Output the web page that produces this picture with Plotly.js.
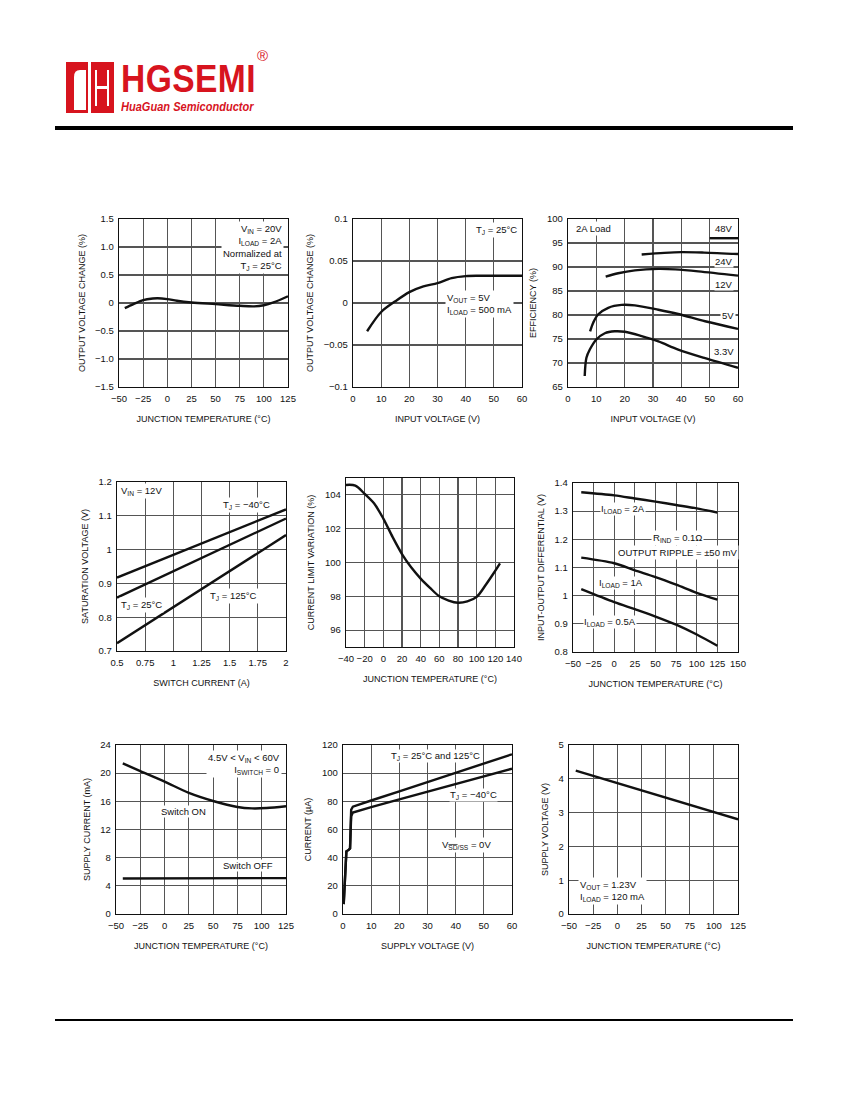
<!DOCTYPE html>
<html>
<head>
<meta charset="utf-8">
<script src="https://cdn.plot.ly/plotly-3.0.1.min.js"></script>
<style>
  html, body { margin: 0; padding: 0; background: #fff; }
  #wrap { position: relative; width: 850px; height: 1100px; }
  #page { width: 850px; height: 1100px; }
  .logo { position: absolute; color: #d7141e; white-space: nowrap; transform-origin: left top; font-family: "Liberation Sans", Arial, sans-serif; }
  #brand { left: 121px; top: 57px; font-size: 39px; font-weight: bold; transform: scaleX(0.86); letter-spacing: 0.5px; }
  #sub { left: 121px; top: 100px; font-size: 12px; font-weight: bold; font-style: italic; transform: scaleX(0.92); }
  #reg { left: 257px; top: 47px; font-size: 15px; }
</style>
</head>
<body>
<div id="wrap">
  <div id="page"></div>
  <div class="logo" id="brand">HGSEMI</div>
  <div class="logo" id="sub">HuaGuan Semiconductor</div>
  <div class="logo" id="reg">®</div>
</div>
<script>
// ---- data ----
const ovcTemp = [-44, -35, -25, -15, -10, 0, 10, 25, 50, 75, 90, 100, 110, 125];
const ovcVal = [-0.09, -0.02, 0.05, 0.08, 0.085, 0.07, 0.04, 0.01, -0.02, -0.05, -0.06, -0.04, 0.01, 0.12];
const ovcTicks = [-1.5, -1, -0.5, 0, 0.5, 1, 1.5];
const ovcTickText = ["−1.5", "−1.0", "−0.5", "0", "0.5", "1.0", "1.5"];

const lineVin = [5, 10, 15, 20, 25, 30, 35, 40, 45, 60];
const lineVal = [-0.0336, -0.0107, 0.002, 0.013, 0.0198, 0.0237, 0.0296, 0.032, 0.0324, 0.0324];
const lineTicks = [-0.1, -0.05, 0, 0.05, 0.1];
const lineTickText = ["−0.1", "−0.05", "0", "0.05", "0.1"];

const eff48Vin = [50, 60];
const eff48 = [96, 96];
const eff24Vin = [26, 34, 40, 48, 60];
const eff24 = [92.6, 92.95, 93.1, 93.0, 92.7];
const eff12Vin = [13.3, 17.7, 23.6, 31.9, 37.8, 46, 60];
const eff12 = [88.0, 88.7, 89.3, 89.6, 89.5, 89.1, 88.2];
const eff5Vin = [7.8, 8.9, 10.6, 14.2, 18.9, 23.6, 31.9, 38.9, 48.4, 60];
const eff5 = [76.6, 78.4, 80.1, 81.5, 82.1, 82.0, 81.1, 80.2, 78.7, 77.1];
const eff33Vin = [5.9, 6.5, 7.7, 10, 13, 16.5, 20.1, 26, 31.9, 38.9, 48.4, 60];
const eff33 = [67.3, 71.1, 72.8, 74.9, 76.2, 76.6, 76.5, 75.6, 74.5, 72.8, 71.0, 69.0];

const satCurrent = [0.5, 1.0, 1.5, 2.0];
const satM40 = [0.917, 0.984, 1.051, 1.119];
const sat25 = [0.858, 0.936, 1.014, 1.092];
const sat125 = [0.723, 0.830, 0.937, 1.043];

const ilimTemp = [-40, -30, -20, -10, 0, 10, 20, 30, 40, 50, 60, 70, 80, 90, 100, 110, 118, 125];
const ilimVal = [104.59, 104.55, 104.06, 103.5, 102.6, 101.5, 100.5, 99.7, 99.05, 98.5, 98.0, 97.75, 97.62, 97.7, 97.97, 98.7, 99.35, 99.95];

const dropTemp = [-40, 0, 25, 50, 75, 100, 125];
const drop2A = [1.367, 1.356, 1.345, 1.334, 1.322, 1.31, 1.295];
const drop1A = [1.135, 1.115, 1.09, 1.066, 1.039, 1.01, 0.986];
const drop05A = [1.023, 0.977, 0.952, 0.926, 0.897, 0.862, 0.822];

const iqTemp = [-43, -25, 0, 25, 50, 75, 90, 105, 125];
const iqOn = [21.4, 20.3, 18.8, 17.2, 16.05, 15.2, 15.0, 15.05, 15.3];
const iqOffTemp = [-43, 125];
const iqOff = [5.05, 5.1];

const sdVin = [0.25, 0.8, 1.2, 2.0, 2.5, 2.7, 2.9, 3.5, 5, 10, 20, 30, 40, 50, 60];
const sdHot = [7, 32, 44.5, 45.5, 46.5, 60, 74, 76.2, 77.3, 80.6, 87.1, 93.7, 100.2, 106.8, 113.4];
const sdCold = [7, 32, 44.5, 45.5, 46.5, 58, 69.5, 72, 73, 75.9, 81.4, 86.9, 92.3, 97.8, 103.2];

const minTemp = [-43, 0, 25, 50, 75, 100, 125];
const minVin = [4.24, 3.87, 3.65, 3.44, 3.22, 3.01, 2.80];

// ---- page geometry helpers (pixel box -> paper domain) ----
const W = 850, H = 1100;
const dx = (a, b) => [a / W, b / W];
const dy = (top, bot) => [1 - bot / H, 1 - top / H];
const FONT = "Liberation Sans, Arial, sans-serif";
const INK = "#111";
const RED = "#d7141e";

function xax(dom, range, dtick, title, extra, standoff) {
  return Object.assign({
    domain: dom, range: range, dtick: dtick, tick0: range[0],
    showline: true, mirror: true, linecolor: INK, linewidth: 1.3,
    showgrid: true, gridcolor: "#555", gridwidth: 1.1, zeroline: false,
    ticks: "", ticklabelstandoff: 2, tickfont: { family: FONT, size: 9.5, color: INK },
    title: { text: title, standoff: standoff || 13, font: { family: FONT, size: 9, color: INK } },
  }, extra || {});
}
// y axes sit closer to their titles than x axes
const yax = (dom, range, dtick, title, extra) => xax(dom, range, dtick, title, extra, 8);

const curve = (n, x, y, shape) => ({
  x: x, y: y, xaxis: n === 1 ? "x" : "x" + n, yaxis: n === 1 ? "y" : "y" + n,
  type: "scatter", mode: "lines", hoverinfo: "skip",
  line: { color: INK, width: 2.4, shape: shape || "spline", smoothing: 0.9 },
});

const traces = [
  curve(1, ovcTemp, ovcVal),
  curve(2, lineVin, lineVal),
  curve(3, eff48Vin, eff48, "linear"),
  curve(3, eff24Vin, eff24),
  curve(3, eff12Vin, eff12),
  curve(3, eff5Vin, eff5),
  curve(3, eff33Vin, eff33),
  curve(4, satCurrent, satM40, "linear"),
  curve(4, satCurrent, sat25, "linear"),
  curve(4, satCurrent, sat125, "linear"),
  curve(5, ilimTemp, ilimVal),
  curve(6, dropTemp, drop2A),
  curve(6, dropTemp, drop1A),
  curve(6, dropTemp, drop05A),
  curve(7, iqTemp, iqOn),
  curve(7, iqOffTemp, iqOff, "linear"),
  curve(8, sdVin, sdHot, "linear"),
  curve(8, sdVin, sdCold, "linear"),
  curve(9, minTemp, minVin, "linear"),
];

function note(n, x, y, text, opts) {
  return Object.assign({
    xref: n === 1 ? "x" : "x" + n, yref: n === 1 ? "y" : "y" + n,
    x: x, y: y, text: text, showarrow: false,
    font: { family: FONT, size: 9.5, color: INK },
    bgcolor: "#fff", borderpad: 1,
    xanchor: "center", yanchor: "middle",
  }, opts || {});
}

const annotations = [
  note(1, 121, 1.47, "V<sub>IN</sub> = 20V<br>I<sub>LOAD</sub> = 2A<br>Normalized at<br>T<sub>J</sub> = 25°C",
    { xanchor: "right", yanchor: "top", align: "right" }),
  note(2, 58.8, 0.087, "T<sub>J</sub> = 25°C", { xanchor: "right" }),
  note(2, 32.5, -0.001, "V<sub>OUT</sub> = 5V<br>I<sub>LOAD</sub> = 500 mA", { xanchor: "left", align: "left" }),
  note(3, 2.2, 98.0, "2A Load", { xanchor: "left" }),
  note(3, 55.2, 98.1, "48V", { borderpad: 0 }),
  note(3, 55.2, 91.1, "24V", { borderpad: 0 }),
  note(3, 55.2, 86.4, "12V", { borderpad: 0 }),
  note(3, 56.5, 79.8, "5V"),
  note(3, 55.2, 72.5, "3.3V"),
  note(4, 0.52, 1.173, "V<sub>IN</sub> = 12V", { xanchor: "left" }),
  note(4, 1.65, 1.132, "T<sub>J</sub> = −40°C"),
  note(4, 0.52, 0.836, "T<sub>J</sub> = 25°C", { xanchor: "left" }),
  note(4, 1.31, 0.863, "T<sub>J</sub> = 125°C", { xanchor: "left" }),
  note(6, 10.6, 1.306, "I<sub>LOAD</sub> = 2A", { borderpad: 0 }),
  note(6, 77, 1.205, "R<sub>IND</sub> = 0.1Ω"),
  note(6, 77, 1.152, "OUTPUT RIPPLE = ±50 mV"),
  note(6, 8.5, 1.046, "I<sub>LOAD</sub> = 1A", { borderpad: 0 }),
  note(6, -5, 0.905, "I<sub>LOAD</sub> = 0.5A", { borderpad: 0 }),
  note(7, 120.5, 23.3, "4.5V < V<sub>IN</sub> < 60V<br>I<sub>SWITCH</sub> = 0",
    { xanchor: "right", yanchor: "top", align: "right" }),
  note(7, 19, 14.6, "Switch ON", { borderpad: 0 }),
  note(7, 86, 6.9, "Switch OFF", { borderpad: 0 }),
  note(8, 33, 112.5, "T<sub>J</sub> = 25°C and 125°C", { borderpad: 0 }),
  note(8, 46.5, 84.2, "T<sub>J</sub> = −40°C", { borderpad: 0 }),
  note(8, 44, 49, "V<sub><span style=\"text-decoration:overline\">SD</span>/SS</sub> = 0V"),
  note(9, -41, 0.68, "V<sub>OUT</sub> = 1.23V<br>I<sub>LOAD</sub> = 120 mA", { xanchor: "left", align: "left" }),
];

// page rules and logo mark, in pixel space converted to paper
const px = (v) => v / W, py = (v) => 1 - v / H;
const rect = (x0, y0, x1, y1, color) => ({
  type: "rect", xref: "paper", yref: "paper", x0: px(x0), x1: px(x1), y0: py(y0), y1: py(y1),
  fillcolor: color, line: { width: 0 },
});
const shapes = [
  rect(55, 126, 793, 130, "#000"),
  rect(55, 1019, 793, 1021, "#000"),
  rect(66, 62, 114, 113, RED),
  { type: "path", xref: "paper", yref: "paper", fillcolor: "#fff", line: { width: 0 },
    path: `M ${px(74)},${py(110)} L ${px(74)},${py(77)} Q ${px(74)},${py(70)} ${px(80)},${py(70)} L ${px(86)},${py(70)} L ${px(86)},${py(110)} Z` },
  rect(88, 62, 91, 113, "#fff"),
  rect(95, 70, 97, 106, "#fff"),
  rect(107, 70, 109, 106, "#fff"),
  rect(95, 86, 109, 89, "#fff"),
];

const layout = {
  width: W, height: H,
  margin: { t: 0, b: 0, l: 0, r: 0 },
  paper_bgcolor: "#fff", plot_bgcolor: "#fff",
  showlegend: false,
  font: { family: FONT, color: INK },
  xaxis: xax(dx(119, 288), [-50, 125], 25, "JUNCTION TEMPERATURE (°C)", { anchor: "y" }),
  yaxis: yax(dy(219, 387), [-1.5, 1.5], 0.5, "OUTPUT VOLTAGE CHANGE (%)",
    { anchor: "x", tickvals: ovcTicks, ticktext: ovcTickText }),
  xaxis2: xax(dx(353, 522), [0, 60], 10, "INPUT VOLTAGE (V)", { anchor: "y2" }),
  yaxis2: yax(dy(219, 387), [-0.1, 0.1], 0.05, "OUTPUT VOLTAGE CHANGE (%)",
    { anchor: "x2", tickvals: lineTicks, ticktext: lineTickText }),
  xaxis3: xax(dx(568, 738), [0, 60], 10, "INPUT VOLTAGE (V)", { anchor: "y3" }),
  yaxis3: yax(dy(219, 387), [65, 100], 5, "EFFICIENCY (%)", { anchor: "x3" }),
  xaxis4: xax(dx(117, 286), [0.5, 2], 0.25, "SWITCH CURRENT (A)", { anchor: "y4" }),
  yaxis4: yax(dy(482, 651), [0.7, 1.2], 0.1, "SATURATION VOLTAGE (V)", { anchor: "x4" }),
  xaxis5: xax(dx(346, 514), [-40, 140], 20, "JUNCTION TEMPERATURE (°C)", { anchor: "y5" }),
  yaxis5: yax(dy(478, 647), [95, 105], 2, "CURRENT LIMIT VARIATION (%)", { anchor: "x5", tick0: 96 }),
  xaxis6: xax(dx(573, 738), [-50, 150], 25, "JUNCTION TEMPERATURE (°C)", { anchor: "y6" }),
  yaxis6: yax(dy(483, 652), [0.8, 1.4], 0.1, "INPUT-OUTPUT DIFFERENTIAL (V)", { anchor: "x6" }),
  xaxis7: xax(dx(116, 286), [-50, 125], 25, "JUNCTION TEMPERATURE (°C)", { anchor: "y7" }),
  yaxis7: yax(dy(745, 914), [0, 24], 4, "SUPPLY CURRENT (mA)", { anchor: "x7" }),
  xaxis8: xax(dx(343, 512), [0, 60], 10, "SUPPLY VOLTAGE (V)", { anchor: "y8" }),
  yaxis8: yax(dy(745, 914), [0, 120], 20, "CURRENT (µA)", { anchor: "x8" }),
  xaxis9: xax(dx(569, 738), [-50, 125], 25, "JUNCTION TEMPERATURE (°C)", { anchor: "y9" }),
  yaxis9: yax(dy(745, 914), [0, 5], 1, "SUPPLY VOLTAGE (V)", { anchor: "x9" }),
  annotations: annotations,
  shapes: shapes,
};

Plotly.newPlot("page", traces, layout, { displayModeBar: false, staticPlot: true });
</script>
</body>
</html>
